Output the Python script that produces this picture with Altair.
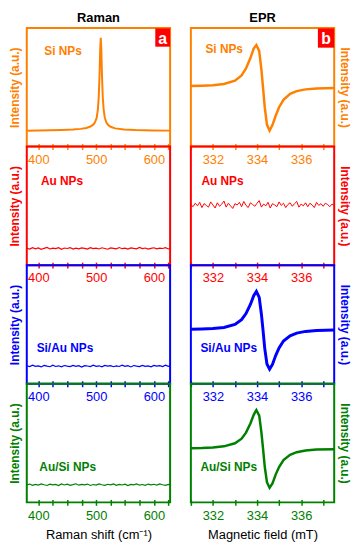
import altair as alt
import pandas as pd

FONT = "Liberation Sans"

# ---------------- data ----------------
samples = ["Si NPs", "Au NPs", "Si/Au NPs", "Au/Si NPs"]
colors = ["#ff8000", "#ff0000", "#0000ff", "#008000"]

raman_ticks = [400, 425, 450, 475, 500, 525, 550, 575, 600, 625]
epr_ticks = [331, 331.5, 332, 332.5, 333, 333.5, 334, 334.5, 335, 335.5,
             336, 336.5, 337, 337.5]

# Raman: Si NPs (sharp peak)
raman_si_x = [380, 400, 420, 440, 460, 473, 483, 490, 495, 498, 501, 503,
              504.5, 506, 507, 508, 509, 510, 511.5, 513, 515, 518, 521, 526,
              533, 548, 568, 598, 628]
raman_si_y = [0.0, 0.002, 0.004, 0.007, 0.012, 0.02, 0.03, 0.045, 0.065,
              0.09, 0.14, 0.23, 0.36, 0.62, 0.87, 1.0, 0.87, 0.62, 0.36, 0.23,
              0.14, 0.085, 0.06, 0.04, 0.025, 0.013, 0.007, 0.003, 0.001]

# Raman: flat noisy traces
raman_x = [380, 385, 390, 395, 400, 405, 410, 415, 420, 425,
           430, 435, 440, 445, 450, 455, 460, 465, 470, 475,
           480, 485, 490, 495, 500, 505, 510, 515, 520, 525,
           530, 535, 540, 545, 550, 555, 560, 565, 570, 575,
           580, 585, 590, 595, 600, 605, 610, 615, 620, 625, 628]
raman_au_y = [0.012, 0.002, 0.018, 0.006, 0.015, 0.000, 0.011, 0.020, 0.004, 0.013,
              0.007, 0.017, 0.001, 0.014, 0.009, 0.019, 0.003, 0.012, 0.006, 0.016,
              0.010, 0.002, 0.018, 0.008, 0.013, 0.004, 0.017, 0.009, 0.001, 0.015,
              0.011, 0.005, 0.019, 0.007, 0.012, 0.003, 0.016, 0.010, 0.006, 0.020,
              0.008, 0.014, 0.002, 0.011, 0.017, 0.005, 0.013, 0.009, 0.018, 0.004, 0.012]
raman_siau_y = [0.024, 0.014, 0.029, 0.017, 0.022, 0.011, 0.027, 0.019, 0.013, 0.030,
                0.016, 0.023, 0.012, 0.026, 0.020, 0.015, 0.028, 0.018, 0.024, 0.010,
                0.025, 0.021, 0.014, 0.029, 0.017, 0.023, 0.012, 0.027, 0.019, 0.025,
                0.013, 0.022, 0.016, 0.030, 0.018, 0.024, 0.011, 0.026, 0.020, 0.015,
                0.028, 0.017, 0.023, 0.013, 0.027, 0.019, 0.024, 0.014, 0.029, 0.018, 0.022]
raman_ausi_y = [0.019, 0.027, 0.013, 0.024, 0.016, 0.029, 0.020, 0.012, 0.026, 0.018,
                0.023, 0.011, 0.028, 0.017, 0.025, 0.014, 0.021, 0.030, 0.015, 0.024,
                0.019, 0.027, 0.012, 0.022, 0.016, 0.028, 0.020, 0.013, 0.025, 0.018,
                0.029, 0.014, 0.023, 0.017, 0.026, 0.011, 0.024, 0.019, 0.028, 0.015,
                0.022, 0.013, 0.027, 0.018, 0.025, 0.016, 0.029, 0.020, 0.014, 0.023, 0.019]

# EPR: derivative signals
epr_x = [331.0, 331.5, 332.0, 332.5, 333.0, 333.3, 333.5, 333.7, 333.85,
         333.97, 334.1, 334.2, 334.27, 334.35, 334.45, 334.57, 334.7, 334.85,
         335.0, 335.2, 335.5, 335.8, 336.2, 336.7, 337.5]
epr_si_y = [0.03, 0.035, 0.045, 0.075, 0.15, 0.27, 0.43, 0.67, 0.89, 0.97,
            0.83, 0.40, 0.01, -0.46, -0.86, -1.0, -0.87, -0.65, -0.46, -0.29,
            -0.15, -0.09, -0.05, -0.03, -0.02]
epr_siau_y = [-0.11, -0.105, -0.095, -0.07, 0.0, 0.11, 0.25, 0.46, 0.66, 0.76,
              0.62, 0.23, -0.12, -0.55, -0.91, -1.03, -0.92, -0.71, -0.54, -0.38,
              -0.26, -0.20, -0.16, -0.14, -0.13]
epr_ausi_y = [-0.12, -0.115, -0.10, -0.075, -0.005, 0.10, 0.24, 0.45, 0.65, 0.76,
              0.63, 0.24, -0.11, -0.54, -0.90, -1.03, -0.93, -0.72, -0.55, -0.39,
              -0.27, -0.21, -0.17, -0.15, -0.14]

# EPR: Au NPs noise
epr_noise_x = [331.0, 331.1, 331.2, 331.3, 331.4, 331.5, 331.6, 331.7, 331.8, 331.9,
               332.0, 332.1, 332.2, 332.3, 332.4, 332.5, 332.6, 332.7, 332.8, 332.9,
               333.0, 333.1, 333.2, 333.3, 333.4, 333.5, 333.6, 333.7, 333.8, 333.9,
               334.0, 334.1, 334.2, 334.3, 334.4, 334.5, 334.6, 334.7, 334.8, 334.9,
               335.0, 335.1, 335.2, 335.3, 335.4, 335.5, 335.6, 335.7, 335.8, 335.9,
               336.0, 336.1, 336.2, 336.3, 336.4, 336.5, 336.6, 336.7, 336.8, 336.9,
               337.0, 337.1, 337.2, 337.3, 337.4, 337.5]
epr_au_y = [0.03, -0.02, 0.06, 0.00, 0.08, -0.04, 0.05, 0.01, -0.03, 0.09,
            0.02, -0.05, 0.07, -0.01, 0.04, 0.11, -0.03, 0.06, 0.00, -0.06,
            0.05, 0.02, 0.08, -0.02, 0.10, 0.01, -0.04, 0.07, 0.03, -0.01,
            0.06, 0.12, -0.03, 0.04, 0.00, 0.08, -0.05, 0.05, 0.02, -0.02,
            0.09, 0.01, 0.06, -0.04, 0.03, 0.07, -0.01, 0.05, 0.10, -0.03,
            0.04, 0.00, 0.07, -0.02, 0.06, 0.02, -0.04, 0.08, 0.01, 0.05,
            -0.01, 0.06, 0.03, -0.02, 0.04, 0.01]

raman_series = [(raman_si_x, raman_si_y), (raman_x, raman_au_y),
                (raman_x, raman_siau_y), (raman_x, raman_ausi_y)]
epr_series = [(epr_x, epr_si_y), (epr_noise_x, epr_au_y),
              (epr_x, epr_siau_y), (epr_x, epr_ausi_y)]

# ---------------- layout constants ----------------
W, H = 145, 120
raman_label_pos = [(17.7, 27), (14.3, 39.3), (10, 87.7), (12.7, 88.7)]
epr_label_pos = [(14.7, 25.3), (10.7, 39.3), (9.7, 88), (9.7, 88)]
raman_width = [2, 1.2, 1.2, 1.2]
epr_width = [2.5, 1, 3, 2.5]


def make_panel(kind, i):
    c = colors[i]
    bottom = i == 3
    top = i == 0
    if kind == "raman":
        xs, ys = raman_series[i]
        xdom, ydom = [380, 628], [-0.17, 1.106]
        ticks = raman_ticks
        expr = "datum.value % 100 == 0 ? datum.label : ''"
        xtitle = "Raman shift (cm\u207b\u00b9)"
        lpos = raman_label_pos[i]
        sw = raman_width[i]
        orient = "left"
        tpad = 5
        badge = "a"
        bx1, bx2, by2 = 130, 145, 19
        ctitle = "Raman"
    else:
        xs, ys = epr_series[i]
        xdom, ydom = [331, 337.5], [-1.364, 1.364]
        ticks = epr_ticks
        expr = "datum.value % 2 == 0 ? datum.label : ''"
        xtitle = "Magnetic field (mT)"
        lpos = epr_label_pos[i]
        sw = epr_width[i]
        orient = "right"
        tpad = 3
        badge = "b"
        bx1, bx2, by2 = 128.5, 145, 20
        ctitle = "EPR"

    df = pd.DataFrame({"x": xs, "y": ys})
    axis_kwargs = dict(
        values=ticks, labelExpr=expr, format="d", offset=-3, tickSize=6,
        tickWidth=1.5, tickColor=c, labelColor=c, labelFontSize=13,
        labelFont=FONT, labelPadding=4, labelFlush=False, labelOverlap=False,
        domain=False, grid=False, titleColor="black", titleFont=FONT,
        titleFontSize=13, titleFontWeight="normal", titlePadding=7,
    )
    if bottom:
        x_axis = alt.Axis(title=xtitle, **axis_kwargs)
    else:
        x_axis = alt.Axis(title=None, **axis_kwargs)
    y_axis = alt.Axis(title="Intensity (a.u.)", orient=orient, labels=False,
                      ticks=False, domain=False, grid=False, titleColor=c,
                      titleFont=FONT, titleFontSize=12, titleFontWeight="bold",
                      titlePadding=tpad)

    line = alt.Chart(df).mark_line(color=c, strokeWidth=sw, clip=True).encode(
        x=alt.X("x:Q", scale=alt.Scale(domain=xdom, nice=False, zero=False), axis=x_axis),
        y=alt.Y("y:Q", scale=alt.Scale(domain=ydom, nice=False, zero=False), axis=y_axis),
    )
    label = alt.Chart(pd.DataFrame({"t": [samples[i]]})).mark_text(
        font=FONT, fontSize=12, fontWeight="bold", color=c, align="left",
        baseline="alphabetic"
    ).encode(text="t:N", x=alt.value(lpos[0]), y=alt.value(lpos[1]))
    layers = [line, label]
    if top:
        rect = alt.Chart(pd.DataFrame({"t": [badge]})).mark_rect(color="#ff0000").encode(
            x=alt.value(bx1), x2=alt.value(bx2), y=alt.value(0.5), y2=alt.value(by2))
        btxt = alt.Chart(pd.DataFrame({"t": [badge]})).mark_text(
            font=FONT, fontSize=16, fontWeight="bold", color="white",
            align="center", baseline="alphabetic"
        ).encode(text="t:N", x=alt.value((bx1 + bx2) / 2), y=alt.value(16.5))
        layers += [rect, btxt]
    ch = alt.layer(*layers).properties(
        width=W, height=H,
        view=alt.ViewBackground(stroke=c, strokeWidth=2),
    )
    if top:
        ch = ch.properties(title=alt.TitleParams(
            text=ctitle, font=FONT, fontSize=13, fontWeight="bold",
            color="black", offset=3))
    return ch


cells = []
for i in range(4):
    cells.append(make_panel("raman", i))
    cells.append(make_panel("epr", i))

chart = alt.concat(
    *cells, columns=2, bounds="flush",
    spacing=alt.RowColnumber(row=0, column=21),
).properties(padding=0).configure(font=FONT)

chart.save("out.html", embed_options={"renderer": "svg", "actions": False})
